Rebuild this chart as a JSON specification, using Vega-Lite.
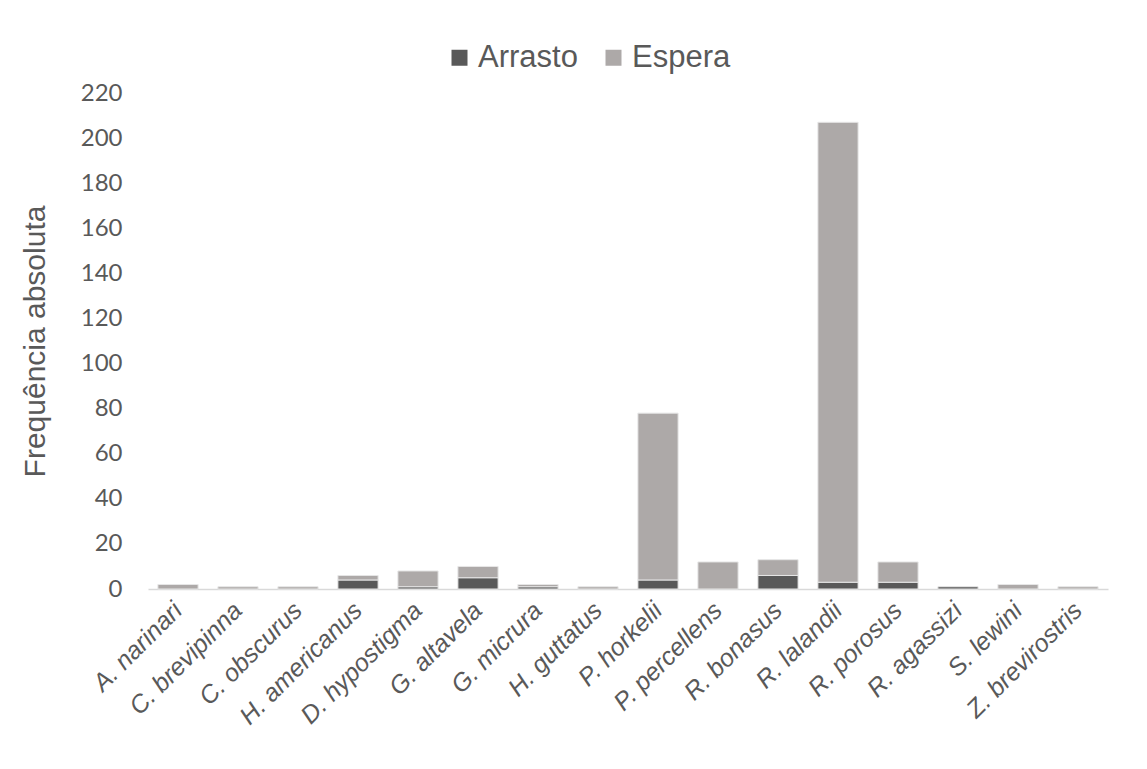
{
  "$schema": "https://vega.github.io/schema/vega-lite/v6.json",
  "width": 960,
  "height": 496,
  "autosize": {"type": "none"},
  "padding": {"left": 148, "top": 93, "right": 39, "bottom": 180},
  "background": "white",
  "config": {"view": {"stroke": null}},
  "data": {
    "values": [
      {"Especie": "A. narinari", "Tipo": "Espera", "Freq": 2},
      {"Especie": "C. brevipinna", "Tipo": "Espera", "Freq": 1},
      {"Especie": "C. obscurus", "Tipo": "Espera", "Freq": 1},
      {"Especie": "H. americanus", "Tipo": "Arrasto", "Freq": 4},
      {"Especie": "H. americanus", "Tipo": "Espera", "Freq": 2},
      {"Especie": "D. hypostigma", "Tipo": "Arrasto", "Freq": 1},
      {"Especie": "D. hypostigma", "Tipo": "Espera", "Freq": 7},
      {"Especie": "G. altavela", "Tipo": "Arrasto", "Freq": 5},
      {"Especie": "G. altavela", "Tipo": "Espera", "Freq": 5},
      {"Especie": "G. micrura", "Tipo": "Arrasto", "Freq": 1},
      {"Especie": "G. micrura", "Tipo": "Espera", "Freq": 1},
      {"Especie": "H. guttatus", "Tipo": "Espera", "Freq": 1},
      {"Especie": "P. horkelii", "Tipo": "Arrasto", "Freq": 4},
      {"Especie": "P. horkelii", "Tipo": "Espera", "Freq": 74},
      {"Especie": "P. percellens", "Tipo": "Espera", "Freq": 12},
      {"Especie": "R. bonasus", "Tipo": "Arrasto", "Freq": 6},
      {"Especie": "R. bonasus", "Tipo": "Espera", "Freq": 7},
      {"Especie": "R. lalandii", "Tipo": "Arrasto", "Freq": 3},
      {"Especie": "R. lalandii", "Tipo": "Espera", "Freq": 204},
      {"Especie": "R. porosus", "Tipo": "Arrasto", "Freq": 3},
      {"Especie": "R. porosus", "Tipo": "Espera", "Freq": 9},
      {"Especie": "R. agassizi", "Tipo": "Arrasto", "Freq": 1},
      {"Especie": "S. lewini", "Tipo": "Espera", "Freq": 2},
      {"Especie": "Z. brevirostris", "Tipo": "Espera", "Freq": 1}
    ]
  },
  "mark": {"type": "bar", "stroke": "#e6e6e6", "strokeWidth": 1},
  "encoding": {
    "x": {
      "field": "Especie",
      "type": "nominal",
      "sort": null,
      "scale": {"paddingInner": 0.33, "paddingOuter": 0.165},
      "axis": {
        "title": null,
        "labelAngle": -45,
        "labelAlign": "right",
        "labelBaseline": "middle",
        "labelFont": "Liberation Sans",
        "labelFontStyle": "italic",
        "labelFontSize": 25,
        "labelColor": "#595959",
        "labelPadding": 17,
        "ticks": false,
        "domainColor": "#d9d9d9",
        "domainWidth": 1.5
      }
    },
    "y": {
      "field": "Freq",
      "type": "quantitative",
      "aggregate": "sum",
      "stack": "zero",
      "scale": {"domain": [0, 220], "nice": false},
      "axis": {
        "title": "Frequência absoluta",
        "titleFont": "Liberation Sans",
        "titleFontSize": 30,
        "titleFontWeight": "normal",
        "titleColor": "#595959",
        "titlePadding": 30,
        "values": [0, 20, 40, 60, 80, 100, 120, 140, 160, 180, 200, 220],
        "labelFont": "Lato",
        "labelFontSize": 24,
        "labelColor": "#595959",
        "labelPadding": 26,
        "grid": false,
        "domain": false,
        "ticks": false
      }
    },
    "color": {
      "field": "Tipo",
      "type": "nominal",
      "scale": {"domain": ["Arrasto", "Espera"], "range": ["#595959", "#ADA9A8"]},
      "legend": {
        "title": null,
        "orient": "none",
        "direction": "horizontal",
        "legendX": 296,
        "legendY": -51,
        "symbolType": "square",
        "symbolSize": 256,
        "symbolStrokeWidth": 0,
        "labelFont": "Liberation Sans",
        "labelFontSize": 31,
        "labelColor": "#595959",
        "labelOffset": 3,
        "columnPadding": 20
      }
    },
    "order": {"field": "Tipo", "sort": "ascending"}
  }
}
